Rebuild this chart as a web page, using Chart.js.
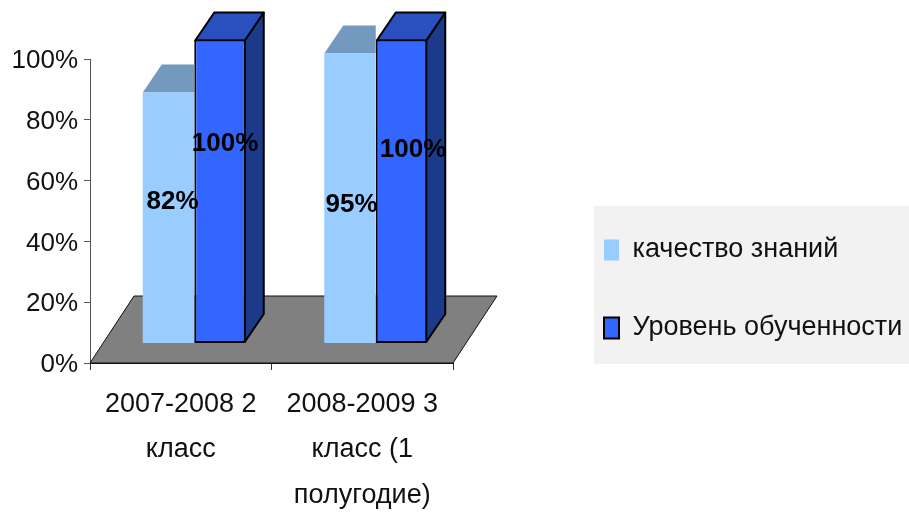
<!DOCTYPE html>
<html>
<head>
<meta charset="utf-8">
<style>html,body{margin:0;padding:0;background:#fff}#wrap{width:909px;height:512px}</style>
<script src="https://cdn.jsdelivr.net/npm/chart.js@4/dist/chart.umd.min.js"></script>
</head>
<body>
<div id="wrap"><canvas id="c" width="909" height="512"></canvas></div>
<script>
const categories = [["2007-2008 2","класс"],["2008-2009 3","класс (1","полугодие)"]];
const seriesNames = ["качество знаний","Уровень обученности"];
const quality = [82.6, 95.4];
const level = [100, 100];
const qualityLabels = ["82%","95%"];
const levelLabels = ["100%","100%"];

const FONT = '"Liberation Sans", Arial, sans-serif';
const SHIFT = {x:13.5, y:-19.5};
const DEPTH = {x:19, y:-28};
const LABEL_NUDGE = [[[4,-16],[1.5,6.5]],[[5,-47.5],[11.5,-41]]];

function poly(ctx, pts, fill, line, lw){
  ctx.beginPath();
  pts.forEach((p,i)=> i?ctx.lineTo(p[0],p[1]):ctx.moveTo(p[0],p[1]));
  ctx.closePath();
  ctx.fillStyle = fill; ctx.fill();
  if(line){ctx.strokeStyle=line;ctx.lineWidth=lw;ctx.lineJoin='round';ctx.stroke();}
}

const scene = {
  id:'scene',
  afterLayout(chart){
    const lg = chart.legend, dx = 553-lg.left, dy = 289-(lg.top+lg.bottom)/2;
    lg.left+=dx; lg.right=909; lg.top+=dy; lg.bottom+=dy;
  },
  beforeDraw(chart){
    const c = chart.ctx;
    c.save();
    c.fillStyle='#fff'; c.fillRect(0,0,chart.width,chart.height);
    c.fillStyle='#F2F2F2'; c.fillRect(594,206,315,158);
    c.restore();
  },
  beforeDatasetsDraw(chart){
    const c = chart.ctx, a = chart.chartArea;
    c.save();
    const ox = 44, oy = -67;
    poly(c,[[a.left,a.bottom],[a.right,a.bottom],[a.right+ox,a.bottom+oy],[a.left+ox,a.bottom+oy]],'#808080','#111',1);
    c.restore();
  },
  beforeDatasetDraw(chart,args){
    const c = chart.ctx;
    c.save();
    c.translate(SHIFT.x,SHIFT.y);
    args.meta.data.forEach(b=>{
      const l=b.x-b.width/2, r=b.x+b.width/2, t=b.y, bt=b.base;
      if(args.index===0){
        // the light bar's depth is hidden behind the dark bar beside it
        poly(c,[[l,t],[r,t],[r,t+DEPTH.y],[l+DEPTH.x,t+DEPTH.y]],'#7399BF',null,0);
      }else{
        const k=1;
        poly(c,[[r-k,t+k],[r+DEPTH.x-k,t+DEPTH.y+k],[r+DEPTH.x-k,bt+DEPTH.y-k],[r-k,bt-k]],'#1C3A8A','#000',2);
        poly(c,[[l+k,t+k],[r-k,t+k],[r+DEPTH.x-k,t+DEPTH.y+k],[l+DEPTH.x+k,t+DEPTH.y+k]],'#2A50C0','#000',2);
      }
    });
  },
  afterDatasetDraw(chart){ chart.ctx.restore(); },
  afterDatasetsDraw(chart){
    const c = chart.ctx;
    const texts = [qualityLabels, levelLabels];
    c.save();
    c.font = 'bold 26px '+FONT;
    c.fillStyle='#000'; c.textAlign='center'; c.textBaseline='middle';
    texts.forEach((arr,s)=>{
      const meta = chart.getDatasetMeta(s);
      arr.forEach((t,i)=>{
        const b = meta.data[i], n = LABEL_NUDGE[s][i];
        c.fillText(t, b.x+SHIFT.x+n[0], (b.y+b.base)/2+SHIFT.y+n[1]);
      });
    });
    c.restore();
  }
};

new Chart(document.getElementById('c'),{
  type:'bar',
  data:{
    labels:categories,
    datasets:[
      {label:seriesNames[0],data:quality,backgroundColor:'#99CCFF',borderWidth:0,borderColor:'#99CCFF',clip:false},
      {label:seriesNames[1],data:level,backgroundColor:'#3366FF',borderWidth:2,borderColor:'#000',borderSkipped:false,clip:false}
    ]
  },
  plugins:[scene],
  options:{
    responsive:false,
    animation:false,
    events:[],
    layout:{padding:{left:0,top:59,right:305,bottom:0}},
    categoryPercentage:0.5675,
    barPercentage:1,
    scales:{
      x:{
        afterFit(s){s.height=149;},
        grid:{display:true,drawOnChartArea:false,drawTicks:true,tickLength:7,color:'#333'},
        border:{display:true,color:'#111',width:1},
        ticks:{color:'#111',padding:12,maxRotation:0,autoSkip:false,font:{family:FONT,size:27,lineHeight:1.68}}
      },
      y:{
        min:0,max:100,
        afterFit(s){s.width=90;},
        grid:{display:true,drawOnChartArea:false,drawTicks:true,tickLength:6,color:'#555'},
        border:{display:true,color:'#555',width:1},
        ticks:{stepSize:20,color:'#111',padding:6,labelOffset:2,callback:v=>v+'%',font:{family:FONT,size:26}}
      }
    },
    plugins:{
      tooltip:{enabled:false},
      legend:{
        display:true,position:'right',
        labels:{color:'#111',boxWidth:15,boxHeight:21,padding:51,font:{family:FONT,size:27}}
      }
    }
  }
});
</script>
</body>
</html>
